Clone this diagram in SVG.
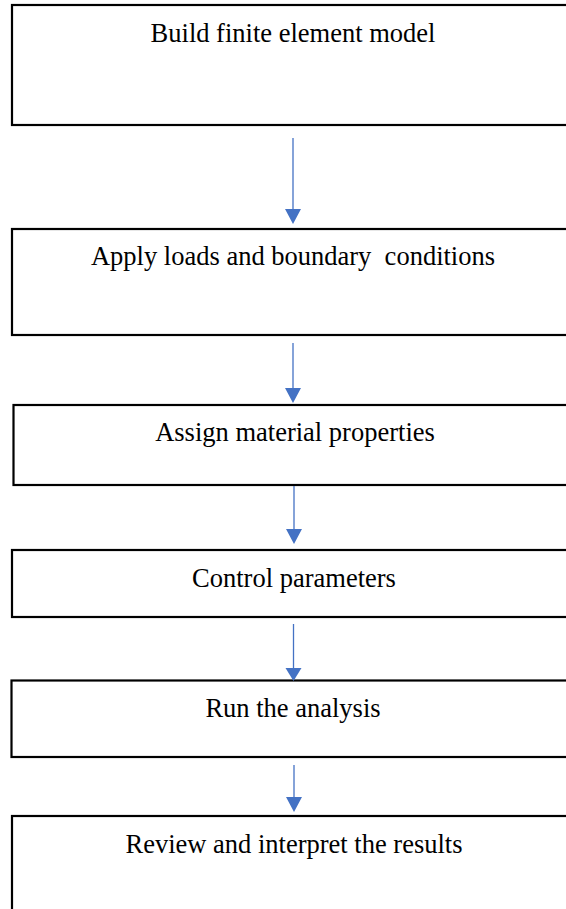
<svg xmlns="http://www.w3.org/2000/svg" width="566" height="909" viewBox="0 0 566 909">
<style>
.box{fill:#ffffff;stroke:#000000;stroke-width:2.2}
.lbl{font-family:"Liberation Serif","Times New Roman",serif;font-size:26.5px;fill:#000000;text-anchor:middle}
.con{stroke:#4472C4;stroke-width:1.3;fill:none}
.head{fill:#4472C4;stroke:none}
</style>
<rect x="0" y="0" width="566" height="909" fill="#ffffff"/>
<g id="node-build">
<rect class="box" x="12" y="5" width="620" height="120"/>
<text class="lbl" x="293" y="42">Build finite element model</text>
</g>
<g id="node-apply">
<rect class="box" x="12" y="229" width="620" height="106"/>
<text class="lbl" x="293" y="265" xml:space="preserve">Apply loads and boundary  conditions</text>
</g>
<g id="node-assign">
<rect class="box" x="13.5" y="405" width="620" height="80"/>
<text class="lbl" x="295" y="441">Assign material properties</text>
</g>
<g id="node-control">
<rect class="box" x="12" y="550" width="620" height="67"/>
<text class="lbl" x="294" y="587">Control parameters</text>
</g>
<g id="node-run">
<rect class="box" x="11.5" y="680.5" width="620" height="76.5"/>
<text class="lbl" x="293" y="717">Run the analysis</text>
</g>
<g id="node-review">
<rect class="box" x="12" y="816" width="620" height="120"/>
<text class="lbl" x="294" y="853">Review and interpret the results</text>
</g>
<g id="connectors">
<line class="con" x1="293" y1="138" x2="293" y2="210"/>
<polygon class="head" points="285,209 301,209 293,224"/>
<line class="con" x1="293" y1="343" x2="293" y2="389"/>
<polygon class="head" points="285,388 301,388 293,403"/>
<line class="con" x1="294" y1="486" x2="294" y2="530"/>
<polygon class="head" points="286,529 302,529 294,544"/>
<line class="con" x1="293.5" y1="624" x2="293.5" y2="669"/>
<polygon class="head" points="285.5,668 301.5,668 293.5,681"/>
<line class="con" x1="294" y1="765" x2="294" y2="798"/>
<polygon class="head" points="286,797 302,797 294,812"/>
</g>
</svg>
